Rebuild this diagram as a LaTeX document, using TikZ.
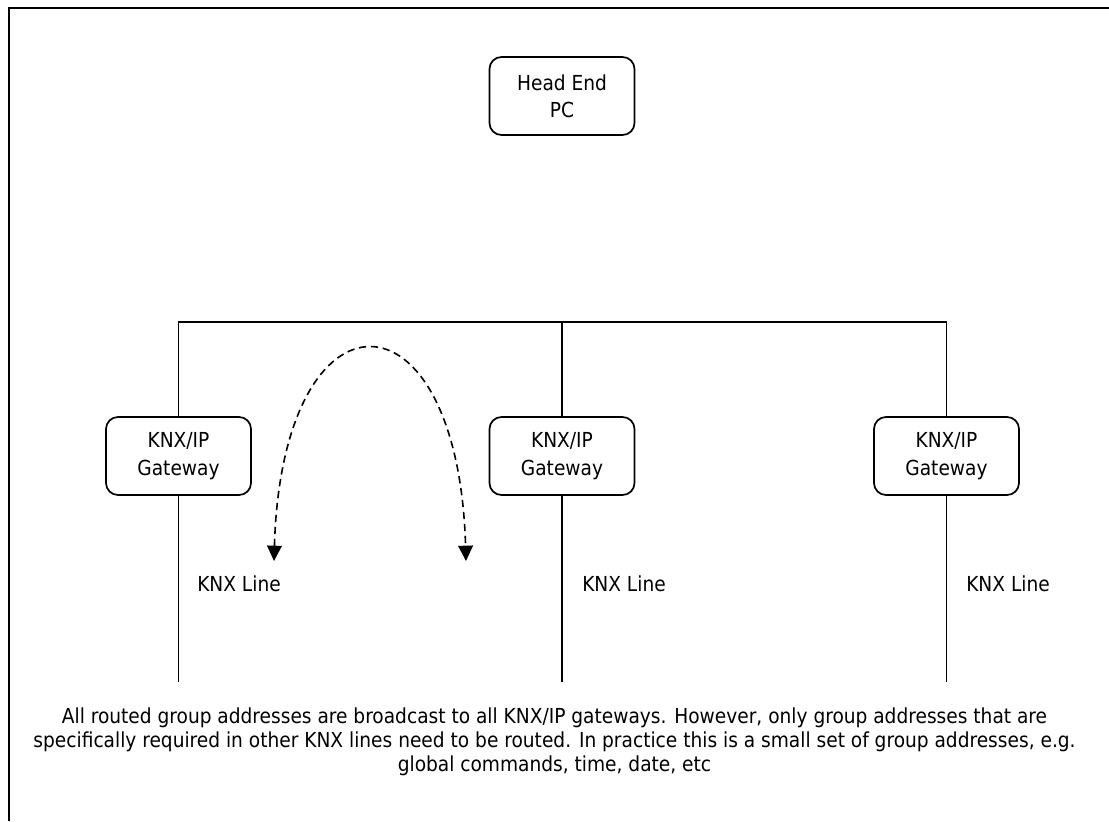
\documentclass[tikz,border=0pt]{standalone}
\usepackage{fontspec}
\setmainfont{DejaVu Sans Condensed}
\usetikzlibrary{arrows.meta}
\begin{document}
\begin{tikzpicture}[x=0.75pt,y=-0.75pt,
  txt/.style={font=\fontsize{15.5}{20}\selectfont},
  box/.style={txt,draw,line width=1.3pt,rounded corners=9pt,
    minimum width=108.75pt,minimum height=58.5pt,align=center,inner sep=0pt},
  gwbox/.style={box,font=\fontsize{15.5}{21}\selectfont},
  wire/.style={line width=1.3pt},
  linelabel/.style={txt,anchor=west,inner sep=0pt},
  route/.style={line width=1.2pt,dash pattern=on 5.5pt off 3.5pt,
    {Triangle[width=11pt,length=11.5pt]}-{Triangle[width=11pt,length=11.5pt]}}]
\useasboundingbox (0,0) rectangle (1109,821);

% frame
\draw[line width=1.6pt] (9,821) -- (9,8) -- (1109,8);

% head end
\node[box] (pc) at (562,96) {Head End\\PC};

% gateways
\node[gwbox] (gw1) at (178.5,456) {KNX/IP\\Gateway};
\node[gwbox] (gw2) at (562,456) {KNX/IP\\Gateway};
\node[gwbox] (gw3) at (946.5,456) {KNX/IP\\Gateway};

% IP backbone
\coordinate (bus) at (0,322);
\draw[wire] (gw1.north) -- (gw1.north |- bus) -- (gw3.north |- bus) -- (gw3.north);
\draw[wire] (gw2.north) -- (gw2.north |- bus);

% KNX lines
\coordinate (lineend) at (0,682);
\foreach \g in {gw1,gw2,gw3}
  \draw[wire] (\g.south) -- (\g.south |- lineend);

\node[linelabel] (l1) at (197,584) {KNX Line};
\node[linelabel] (l2) at (582,584) {KNX Line};
\node[linelabel] (l3) at (966,584) {KNX Line};

% routing between lines
\coordinate (r1) at (274,561);
\coordinate (r2) at (466,561);
\draw[route] (r1) .. controls (282,280) and (458,280) .. (r2);

% note
\node[txt,align=center,font=\fontsize{15.5}{18}\selectfont] (note) at (554.5,742)
  {All routed group addresses are broadcast to all KNX/IP gateways. However, only group addresses that are\\
   specifically required in other KNX lines need to be routed. In practice this is a small set of group addresses, e.g.\\
   global commands, time, date, etc};
\end{tikzpicture}
\end{document}
